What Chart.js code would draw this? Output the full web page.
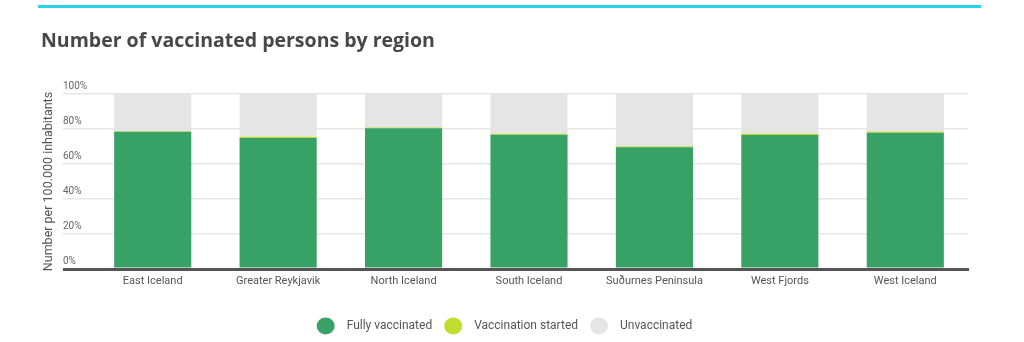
<!DOCTYPE html>
<html>
<head>
<meta charset="utf-8">
<script src="https://cdn.jsdelivr.net/npm/chart.js@4"></script>
<style>
  html, body { margin: 0; padding: 0; background: #fff; }
  #wrap { position: relative; width: 1024px; height: 342px; }
  #topline { position: absolute; left: 38px; top: 5px; width: 943px; height: 3px; background: #29d3e6; }
  canvas { position: absolute; left: 0; top: 0; }
</style>
</head>
<body>
<div id="wrap">
  <div id="topline"></div>
  <canvas id="regionChart" width="1024" height="342"></canvas>
</div>
<script>
const regions = ['East Iceland', 'Greater Reykjavik', 'North Iceland', 'South Iceland', 'Suðurnes Peninsula', 'West Fjords', 'West Iceland'];
const fullyVaccinated = [78.4, 74.9, 80.5, 76.7, 69.6, 76.6, 77.9];
const vaccinationStarted = [0.3, 0.7, 0.4, 0.6, 0.6, 0.7, 0.7];
const unvaccinated = [21.3, 24.4, 19.1, 22.7, 29.8, 22.7, 21.4];
const yTicks = [0, 20, 40, 60, 80, 100];

const font = 'Roboto, "Noto Sans", sans-serif';

function barSet(label, data, color) {
    return {
        label: label,
        data: data,
        backgroundColor: color,
        borderWidth: 0,
        barPercentage: 0.615,
        categoryPercentage: 1
    };
}

new Chart(document.getElementById('regionChart').getContext('2d'), {
    type: 'bar',
    data: {
        labels: regions,
        datasets: [
            barSet('Fully vaccinated', fullyVaccinated, '#38a266'),
            barSet('Vaccination started', vaccinationStarted, '#c0dd2e'),
            barSet('Unvaccinated', unvaccinated, '#e5e5e5')
        ]
    },
    options: {
        responsive: false,
        animation: false,
        devicePixelRatio: 1,
        layout: { padding: { left: 41, right: 56, top: 0, bottom: 0 } },
        plugins: {
            tooltip: { enabled: false },
            title: {
                display: true,
                text: 'Number of vaccinated persons by region',
                align: 'start',
                color: '#474747',
                font: { family: '"Open Sans", Roboto, sans-serif', size: 19.5, weight: 'bold' },
                padding: { top: 30, bottom: 40.6 }
            },
            legend: {
                position: 'bottom',
                labels: {
                    usePointStyle: true,
                    pointStyle: 'circle',
                    boxHeight: 12,
                    pointStyleWidth: 18,
                    padding: 12,
                    color: '#555',
                    font: { family: font, size: 12 },
                    // a little extra room between the dot and its text
                    generateLabels: chart => Chart.defaults.plugins.legend.labels.generateLabels(chart)
                        .map(item => Object.assign(item, { text: '  ' + item.text }))
                }
            }
        },
        scales: {
            x: {
                stacked: true,
                grid: { display: false, drawTicks: false },
                border: { display: true, color: '#555', width: 3 },
                ticks: { color: '#555', padding: 6, font: { family: font, size: 11 } },
                afterFit: s => { s.height = 39; }
            },
            y: {
                stacked: true,
                min: 0,
                max: 100,
                afterBuildTicks: s => { s.ticks = yTicks.map(v => ({ value: v })); },
                grid: {
                    color: c => c.tick && c.tick.value === 0 ? '#555' : '#e6e6e6',
                    lineWidth: c => c.tick && c.tick.value === 0 ? 3 : 1.5,
                    drawTicks: true,
                    tickLength: 27
                },
                border: { display: false },
                ticks: {
                    mirror: true,
                    padding: -27,
                    labelOffset: -8,
                    color: '#666',
                    font: { family: font, size: 10 },
                    callback: v => v + '%'
                },
                title: {
                    display: true,
                    text: 'Number per 100.000 inhabitants',
                    color: '#555',
                    font: { family: font, size: 12.5 },
                    padding: { top: 0, bottom: 0 }
                },
                afterFit: s => { s.width = 49; }
            }
        }
    }
});
</script>
</body>
</html>
